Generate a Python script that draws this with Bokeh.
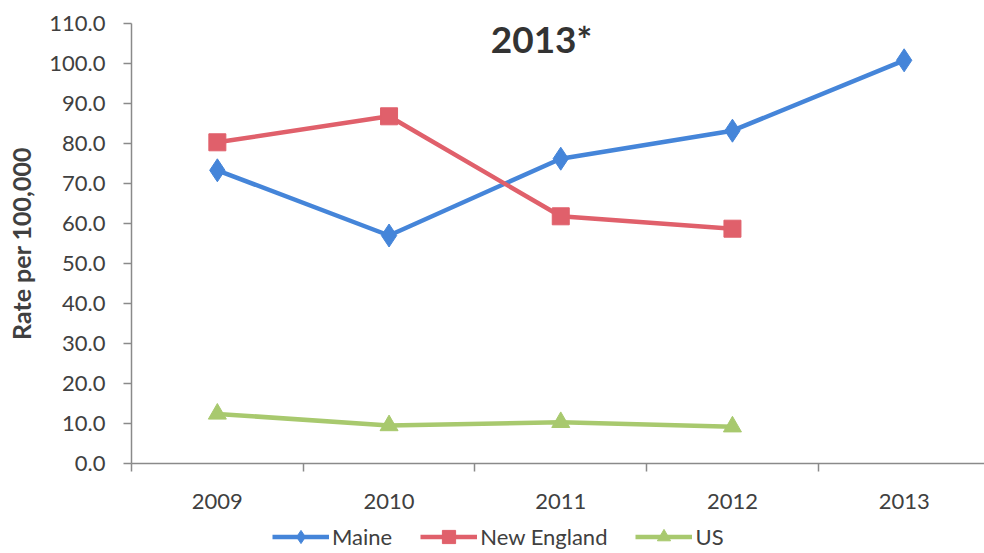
from bokeh.plotting import figure
from bokeh.layouts import column
from bokeh.models import Range1d, FixedTicker, Legend, LegendItem, Label
from bokeh.embed import file_html
from bokeh.resources import INLINE

years = [2009, 2010, 2011, 2012, 2013]
maine = [73.3, 57.0, 76.2, 83.2, 100.8]
ne_years = [2009, 2010, 2011, 2012]
new_england = [80.3, 86.8, 61.8, 58.7]
us_years = [2009, 2010, 2011, 2012]
us = [12.4, 9.5, 10.3, 9.2]
y_ticks = [0, 10, 20, 30, 40, 50, 60, 70, 80, 90, 100, 110]
boundaries = [2008.5, 2009.5, 2010.5, 2011.5, 2012.5]
series_names = ["Maine", "New England", "US"]
title_text = "2013*"
y_label = "Rate per 100,000"

FONT = "Lato"
BLUE = "#4585D9"
RED = "#E0606B"
GREEN = "#A8C96E"
GREY_AXIS = "#8a8a8a"
TXT = "#404040"

p = figure(width=984, height=520, output_backend="svg", toolbar_location=None,
           x_range=Range1d(2008.5, 2008.5 + 853 / 171.7), y_range=Range1d(0, 110),
           min_border_left=131, min_border_right=0, min_border_top=23, min_border_bottom=57)
p.outline_line_color = None
p.xgrid.visible = False
p.ygrid.visible = False
p.background_fill_color = "white"
p.border_fill_color = "white"

# x axis: labels at category centres, ticks on boundaries
p.xaxis.ticker = FixedTicker(ticks=years, minor_ticks=boundaries)
p.xaxis.major_tick_line_color = None
p.xaxis.minor_tick_line_color = GREY_AXIS
p.xaxis.minor_tick_out = 8
p.xaxis.minor_tick_in = 0
p.xaxis.minor_tick_line_width = 1.5
p.xaxis.major_label_standoff = 22
p.xaxis.axis_line_color = GREY_AXIS
p.xaxis.axis_line_width = 1.5
p.xaxis.major_label_text_font = FONT
p.xaxis.major_label_text_font_size = "22px"
p.xaxis.major_label_text_color = TXT

# y axis
p.yaxis.ticker = FixedTicker(ticks=y_ticks, minor_ticks=[])
p.yaxis.major_label_overrides = {t: f"{t:.1f}" for t in y_ticks}
p.yaxis.major_tick_out = 8
p.yaxis.major_tick_in = 0
p.yaxis.major_tick_line_color = GREY_AXIS
p.yaxis.major_tick_line_width = 1.5
p.yaxis.minor_tick_line_color = None
p.yaxis.axis_line_color = GREY_AXIS
p.yaxis.axis_line_width = 1.5
p.yaxis.major_label_standoff = 18
p.yaxis.major_label_text_font = FONT
p.yaxis.major_label_text_font_size = "22px"
p.yaxis.major_label_text_color = TXT
p.yaxis.axis_label = y_label
p.yaxis.axis_label_text_font = FONT
p.yaxis.axis_label_text_font_style = "bold"
p.yaxis.axis_label_text_font_size = "25px"
p.yaxis.axis_label_text_color = TXT
p.yaxis.axis_label_standoff = 10

p.line(years, maine, line_color=BLUE, line_width=4.5)
p.scatter(years, maine, marker="diamond", size=23, fill_color=BLUE, line_color=BLUE)
p.line(ne_years, new_england, line_color=RED, line_width=4.5)
p.scatter(ne_years, new_england, marker="square", size=17, fill_color=RED, line_color=RED)
p.line(us_years, us, line_color=GREEN, line_width=4.5)
p.scatter(us_years, us, marker="triangle", size=18, fill_color=GREEN, line_color=GREEN)

title = Label(x=410, y=106.25, x_units="screen", y_units="data", text=title_text,
              text_align="center", text_baseline="middle", text_font=FONT,
              text_font_style="bold", text_font_size="37px", text_color="#333333")
p.add_layout(title)

# legend strip below the chart (series drawn off-range, only their legend shows)
lg = figure(width=984, height=33, output_backend="svg", toolbar_location=None,
            x_axis_location=None, y_axis_location=None,
            x_range=Range1d(0, 1), y_range=Range1d(0, 1),
            min_border_left=0, min_border_right=0, min_border_top=0, min_border_bottom=0)
lg.outline_line_color = None
lg.xgrid.visible = False
lg.ygrid.visible = False
items = []
for name, xs, ys, col, mk in zip(series_names,
                                 [years, ne_years, us_years],
                                 [maine, new_england, us],
                                 [BLUE, RED, GREEN],
                                 ["diamond", "square", "triangle"]):
    rl = lg.line(xs, ys, line_color=col, line_width=4.5)
    rs = lg.scatter(xs, ys, marker=mk, size=16, fill_color=col, line_color=col)
    items.append(LegendItem(label=name, renderers=[rl, rs]))
legend = Legend(items=items, orientation="horizontal", location=(141, 0),
                glyph_width=57, glyph_height=33, label_standoff=3, spacing=28,
                padding=0, margin=0, border_line_color=None, background_fill_alpha=0,
                label_text_font=FONT, label_text_font_size="22px", label_text_color=TXT)
lg.add_layout(legend, "center")

layout = column(p, lg, spacing=0)
open("out.html", "w").write(file_html(layout, INLINE))
